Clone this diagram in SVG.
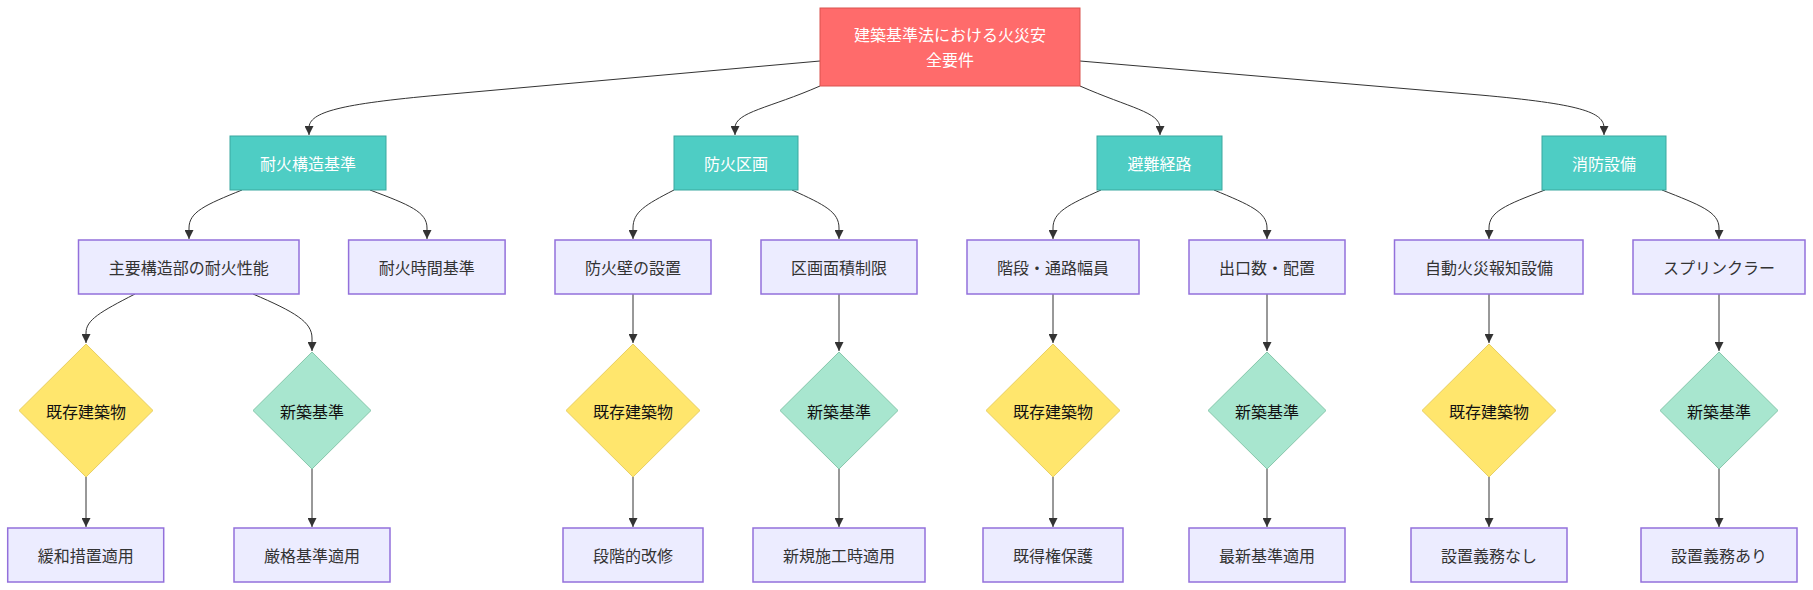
<svg xmlns="http://www.w3.org/2000/svg" width="1813" height="590" viewBox="0 0 1813 590">
<defs>
<marker id="arr" viewBox="0 0 10 10" refX="10" refY="5" markerWidth="9" markerHeight="9" markerUnits="userSpaceOnUse" orient="auto">
<path d="M0,0 L10,5 L0,10 z" fill="#333"/>
</marker>
<style>
text{font-family:"Noto Sans CJK JP","Noto Sans",sans-serif;font-size:16px;text-anchor:middle;dominant-baseline:central;fill:#333}
.root rect{fill:#ff6b6b;stroke:#d9534f;stroke-width:1}
.root text,.cat text{fill:#fff}
.cat rect{fill:#4ecdc4;stroke:#3aa89f;stroke-width:1}
.box rect{fill:#ececff;stroke:#9370db;stroke-width:1.5}
.old polygon{fill:#ffe66d;stroke:#e8cf62;stroke-width:1}
.new polygon{fill:#a8e6cf;stroke:#86c7ab;stroke-width:1}
.old text,.new text{fill:#111}
.edges path{fill:none;stroke:#333;stroke-width:1;marker-end:url(#arr)}
</style>
</defs>
<rect width="1813" height="590" fill="#fff"/>
<g class="edges" id="connectors">
<path d="M820,61 L440,95 C340,104 309,112 309,128 L309,135"/>
<path d="M820,86 C770,108 735,112 735,128 L735,135"/>
<path d="M1080,86 C1130,108 1160,112 1160,128 L1160,135"/>
<path d="M1080,61 L1480,95 C1580,104 1604,112 1604,128 L1604,135"/>
<path d="M242,190 C205,205 189,212 189,228 L189,239"/>
<path d="M370,190 C410,205 427,212 427,228 L427,239"/>
<path d="M674,190 C645,205 633,212 633,228 L633,239"/>
<path d="M792,190 C825,205 839,212 839,228 L839,239"/>
<path d="M1101,190 C1068,205 1053,212 1053,228 L1053,239"/>
<path d="M1214,190 C1250,205 1267,212 1267,228 L1267,239"/>
<path d="M1545,190 C1505,205 1489,212 1489,228 L1489,239"/>
<path d="M1662,190 C1700,205 1719,212 1719,228 L1719,239"/>
<path d="M135,294 C100,312 86,320 86,333 L86,343"/>
<path d="M253,294 C295,312 312,322 312,338 L312,351"/>
<path d="M633,294 L633,343"/>
<path d="M839,294 L839,351"/>
<path d="M1053,294 L1053,343"/>
<path d="M1267,294 L1267,351"/>
<path d="M1489,294 L1489,343"/>
<path d="M1719,294 L1719,351"/>
<path d="M86,477 L86,527"/>
<path d="M312,469 L312,527"/>
<path d="M633,477 L633,527"/>
<path d="M839,469 L839,527"/>
<path d="M1053,477 L1053,527"/>
<path d="M1267,469 L1267,527"/>
<path d="M1489,477 L1489,527"/>
<path d="M1719,469 L1719,527"/>
</g>
<g id="root" class="root"><rect x="820" y="8" width="260" height="78"/><text x="950" y="34">建築基準法における火災安</text><text x="950" y="59">全要件</text></g>
<g id="c1" class="cat"><rect x="230" y="136" width="156" height="54"/><text x="308" y="163">耐火構造基準</text></g>
<g id="c2" class="cat"><rect x="674" y="136" width="124" height="54"/><text x="736" y="163">防火区画</text></g>
<g id="c3" class="cat"><rect x="1097" y="136" width="125" height="54"/><text x="1159.5" y="163">避難経路</text></g>
<g id="c4" class="cat"><rect x="1542" y="136" width="124" height="54"/><text x="1604" y="163">消防設備</text></g>
<g id="b1" class="box"><rect x="78.5" y="240" width="220.5" height="54"/><text x="188.7" y="267">主要構造部の耐火性能</text></g>
<g id="b2" class="box"><rect x="348.6" y="240" width="156.5" height="54"/><text x="426.8" y="267">耐火時間基準</text></g>
<g id="b3" class="box"><rect x="555" y="240" width="156" height="54"/><text x="633" y="267">防火壁の設置</text></g>
<g id="b4" class="box"><rect x="761" y="240" width="156" height="54"/><text x="839" y="267">区画面積制限</text></g>
<g id="b5" class="box"><rect x="967" y="240" width="172" height="54"/><text x="1053" y="267">階段・通路幅員</text></g>
<g id="b6" class="box"><rect x="1189" y="240" width="156" height="54"/><text x="1267" y="267">出口数・配置</text></g>
<g id="b7" class="box"><rect x="1394.5" y="240" width="188.5" height="54"/><text x="1489" y="267">自動火災報知設備</text></g>
<g id="b8" class="box"><rect x="1633" y="240" width="172" height="54"/><text x="1719" y="267">スプリンクラー</text></g>
<g id="d1" class="old"><polygon points="86,344 153,410.5 86,477 19,410.5"/><text x="86" y="410.5">既存建築物</text></g>
<g id="d2" class="new"><polygon points="312,352 371,410.5 312,469 253,410.5"/><text x="312" y="410.5">新築基準</text></g>
<g id="d3" class="old"><polygon points="633,344 700,410.5 633,477 566,410.5"/><text x="633" y="410.5">既存建築物</text></g>
<g id="d4" class="new"><polygon points="839,352 898,410.5 839,469 780,410.5"/><text x="839" y="410.5">新築基準</text></g>
<g id="d5" class="old"><polygon points="1053,344 1120,410.5 1053,477 986,410.5"/><text x="1053" y="410.5">既存建築物</text></g>
<g id="d6" class="new"><polygon points="1267,352 1326,410.5 1267,469 1208,410.5"/><text x="1267" y="410.5">新築基準</text></g>
<g id="d7" class="old"><polygon points="1489,344 1556,410.5 1489,477 1422,410.5"/><text x="1489" y="410.5">既存建築物</text></g>
<g id="d8" class="new"><polygon points="1719,352 1778,410.5 1719,469 1660,410.5"/><text x="1719" y="410.5">新築基準</text></g>
<g id="e1" class="box"><rect x="7.7" y="528" width="156" height="54"/><text x="85.7" y="555">緩和措置適用</text></g>
<g id="e2" class="box"><rect x="234" y="528" width="156" height="54"/><text x="312" y="555">厳格基準適用</text></g>
<g id="e3" class="box"><rect x="563" y="528" width="140" height="54"/><text x="633" y="555">段階的改修</text></g>
<g id="e4" class="box"><rect x="753" y="528" width="172" height="54"/><text x="839" y="555">新規施工時適用</text></g>
<g id="e5" class="box"><rect x="983" y="528" width="140" height="54"/><text x="1053" y="555">既得権保護</text></g>
<g id="e6" class="box"><rect x="1189" y="528" width="156" height="54"/><text x="1267" y="555">最新基準適用</text></g>
<g id="e7" class="box"><rect x="1411" y="528" width="156" height="54"/><text x="1489" y="555">設置義務なし</text></g>
<g id="e8" class="box"><rect x="1641" y="528" width="156" height="54"/><text x="1719" y="555">設置義務あり</text></g>
</svg>
